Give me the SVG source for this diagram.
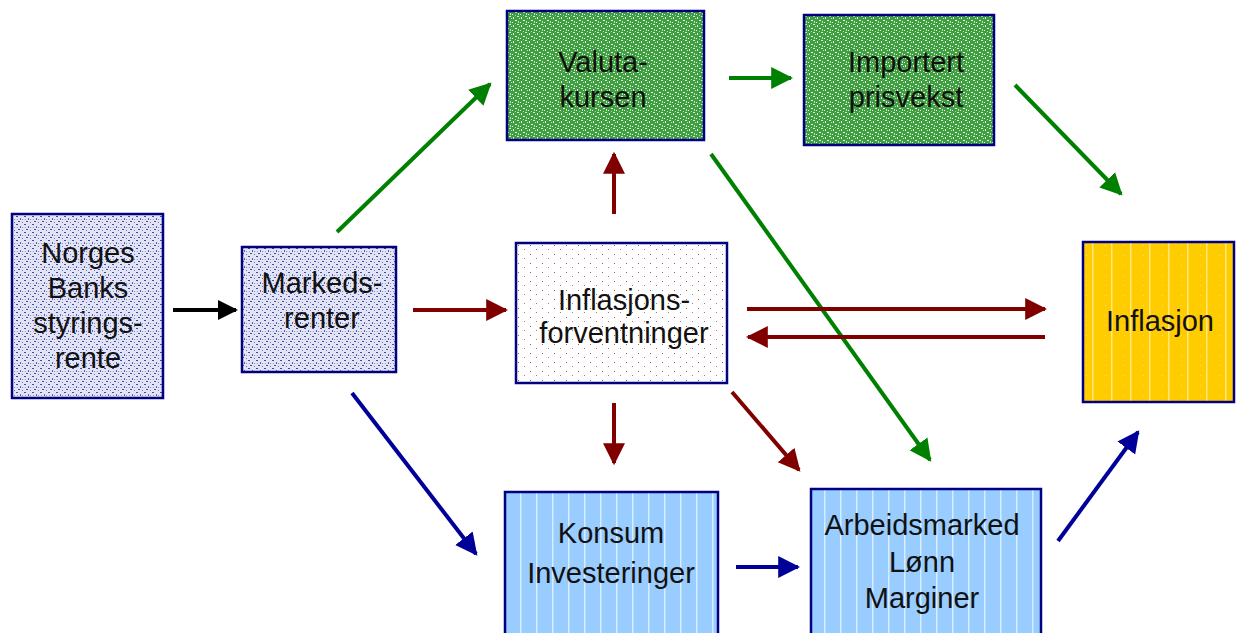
<svg xmlns="http://www.w3.org/2000/svg" width="1238" height="633" viewBox="0 0 1238 633">
<style>
.box{stroke:#000080;stroke-width:2.5}
.t{font-family:"Liberation Sans",Arial,sans-serif;font-size:29px;fill:#111;text-anchor:middle}
.c{fill:none;stroke-width:4}
</style>
<defs>
<pattern id="pBlue" width="8" height="8" patternUnits="userSpaceOnUse">
<rect width="8" height="8" fill="#e2e4f4"/>
<rect x="0" y="0" width="2" height="1" fill="#3f4aa8"/>
<rect x="4" y="2" width="1" height="2" fill="#5560b8"/>
<rect x="2" y="5" width="2" height="1" fill="#3f4aa8"/>
<rect x="6" y="6" width="1" height="1" fill="#6a74c4"/>
<rect x="6" y="3" width="1" height="1" fill="#8088cc"/>
<rect x="1" y="3" width="1" height="1" fill="#9aa0d6"/>
</pattern>
<pattern id="pGreen" width="8" height="8" patternUnits="userSpaceOnUse">
<rect width="8" height="8" fill="#3f9e3f"/>
<rect x="1" y="1" width="1" height="2" fill="#e8f5e8"/>
<rect x="5" y="0" width="2" height="1" fill="#d0ecd0"/>
<rect x="3" y="4" width="2" height="1" fill="#f0fff0"/>
<rect x="6" y="5" width="1" height="2" fill="#c0e4c0"/>
<rect x="0" y="6" width="1" height="1" fill="#ffffff"/>
<rect x="3" y="7" width="1" height="1" fill="#a8d8a8"/>
<rect x="7" y="2" width="1" height="1" fill="#b8e0b8"/>
</pattern>
<pattern id="pRed" width="12" height="9" patternUnits="userSpaceOnUse">
<rect width="12" height="9" fill="#ffffff"/>
<rect x="2" y="2" width="1" height="1" fill="#b05050"/>
<rect x="8" y="6" width="1" height="1" fill="#c07070"/>
</pattern>
<pattern id="pYellow" width="19" height="10" patternUnits="userSpaceOnUse">
<rect width="19" height="10" fill="#ffcc00"/>
<rect x="9" y="0" width="1.5" height="10" fill="#ffe680"/>
<rect x="3" y="5" width="1" height="1" fill="#ffe070"/>
</pattern>
<pattern id="pLight" width="16" height="10" patternUnits="userSpaceOnUse">
<rect width="16" height="10" fill="#99ccff"/>
<rect x="8" y="0" width="1.5" height="10" fill="#d6ecff"/>
</pattern>
<marker id="aK" viewBox="0 0 10 10" refX="9" refY="5" markerWidth="20" markerHeight="22" markerUnits="userSpaceOnUse" orient="auto"><path d="M0,0 L10,5 L0,10 Z" fill="#000"/></marker>
<marker id="aG" viewBox="0 0 10 10" refX="9" refY="5" markerWidth="22" markerHeight="24" markerUnits="userSpaceOnUse" orient="auto"><path d="M0,0 L10,5 L0,10 Z" fill="#008000"/></marker>
<marker id="aR" viewBox="0 0 10 10" refX="9" refY="5" markerWidth="22" markerHeight="24" markerUnits="userSpaceOnUse" orient="auto"><path d="M0,0 L10,5 L0,10 Z" fill="#800000"/></marker>
<marker id="aB" viewBox="0 0 10 10" refX="9" refY="5" markerWidth="22" markerHeight="24" markerUnits="userSpaceOnUse" orient="auto"><path d="M0,0 L10,5 L0,10 Z" fill="#000099"/></marker>
</defs>
<rect width="1238" height="633" fill="#ffffff"/>

<g id="connectors">
<line class="c" x1="173" y1="310" x2="236" y2="310" stroke="#000" marker-end="url(#aK)"/>
<line class="c" x1="337" y1="232" x2="490" y2="84" stroke="#008000" marker-end="url(#aG)"/>
<line class="c" x1="729" y1="78" x2="791" y2="78" stroke="#008000" marker-end="url(#aG)"/>
<line class="c" x1="1015" y1="85" x2="1121" y2="194" stroke="#008000" marker-end="url(#aG)"/>
<line class="c" x1="711" y1="154" x2="930" y2="460" stroke="#008000" marker-end="url(#aG)"/>
<line class="c" x1="413" y1="310" x2="506" y2="310" stroke="#800000" marker-end="url(#aR)"/>
<line class="c" x1="614" y1="214" x2="614" y2="154" stroke="#800000" marker-end="url(#aR)"/>
<line class="c" x1="614" y1="403" x2="614" y2="463" stroke="#800000" marker-end="url(#aR)"/>
<line class="c" x1="732" y1="392" x2="799" y2="470" stroke="#800000" marker-end="url(#aR)"/>
<line class="c" x1="747" y1="309" x2="1045" y2="309" stroke="#800000" marker-end="url(#aR)"/>
<line class="c" x1="1045" y1="337" x2="748" y2="337" stroke="#800000" marker-end="url(#aR)"/>
<line class="c" x1="352" y1="393" x2="476" y2="554" stroke="#000099" marker-end="url(#aB)"/>
<line class="c" x1="736" y1="567" x2="798" y2="567" stroke="#000099" marker-end="url(#aB)"/>
<line class="c" x1="1058" y1="541" x2="1138" y2="432" stroke="#000099" marker-end="url(#aB)"/>
</g>

<g id="norges">
<rect class="box" x="12" y="214" width="151" height="184" fill="url(#pBlue)"/>
<text class="t" x="88" y="263">Norges</text>
<text class="t" x="88" y="298">Banks</text>
<text class="t" x="88" y="333">styrings-</text>
<text class="t" x="88" y="368">rente</text>
</g>

<g id="markeds">
<rect class="box" x="242" y="247" width="154" height="125" fill="url(#pBlue)"/>
<text class="t" x="322" y="293">Markeds-</text>
<text class="t" x="322" y="328">renter</text>
</g>

<g id="valuta">
<rect class="box" x="507" y="11" width="197" height="129" fill="url(#pGreen)"/>
<text class="t" x="603" y="72">Valuta-</text>
<text class="t" x="603" y="107">kursen</text>
</g>

<g id="importert">
<rect class="box" x="804" y="15" width="190" height="130" fill="url(#pGreen)"/>
<text class="t" x="906" y="72">Importert</text>
<text class="t" x="906" y="107">prisvekst</text>
</g>

<g id="inflasjonsforventninger">
<rect class="box" x="516" y="243" width="211" height="140" fill="url(#pRed)"/>
<text class="t" x="624" y="310">Inflasjons-</text>
<text class="t" x="624" y="343">forventninger</text>
</g>

<g id="inflasjon">
<rect class="box" x="1083" y="242" width="151" height="160" fill="url(#pYellow)"/>
<text class="t" x="1160" y="331">Inflasjon</text>
</g>

<g id="konsum">
<rect class="box" x="505" y="492" width="213" height="150" fill="url(#pLight)"/>
<text class="t" x="611" y="543">Konsum</text>
<text class="t" x="611" y="583">Investeringer</text>
</g>

<g id="arbeidsmarked">
<rect class="box" x="811" y="489" width="230" height="150" fill="url(#pLight)"/>
<text class="t" x="922" y="535">Arbeidsmarked</text>
<text class="t" x="922" y="572">Lønn</text>
<text class="t" x="922" y="608">Marginer</text>
</g>
</svg>
